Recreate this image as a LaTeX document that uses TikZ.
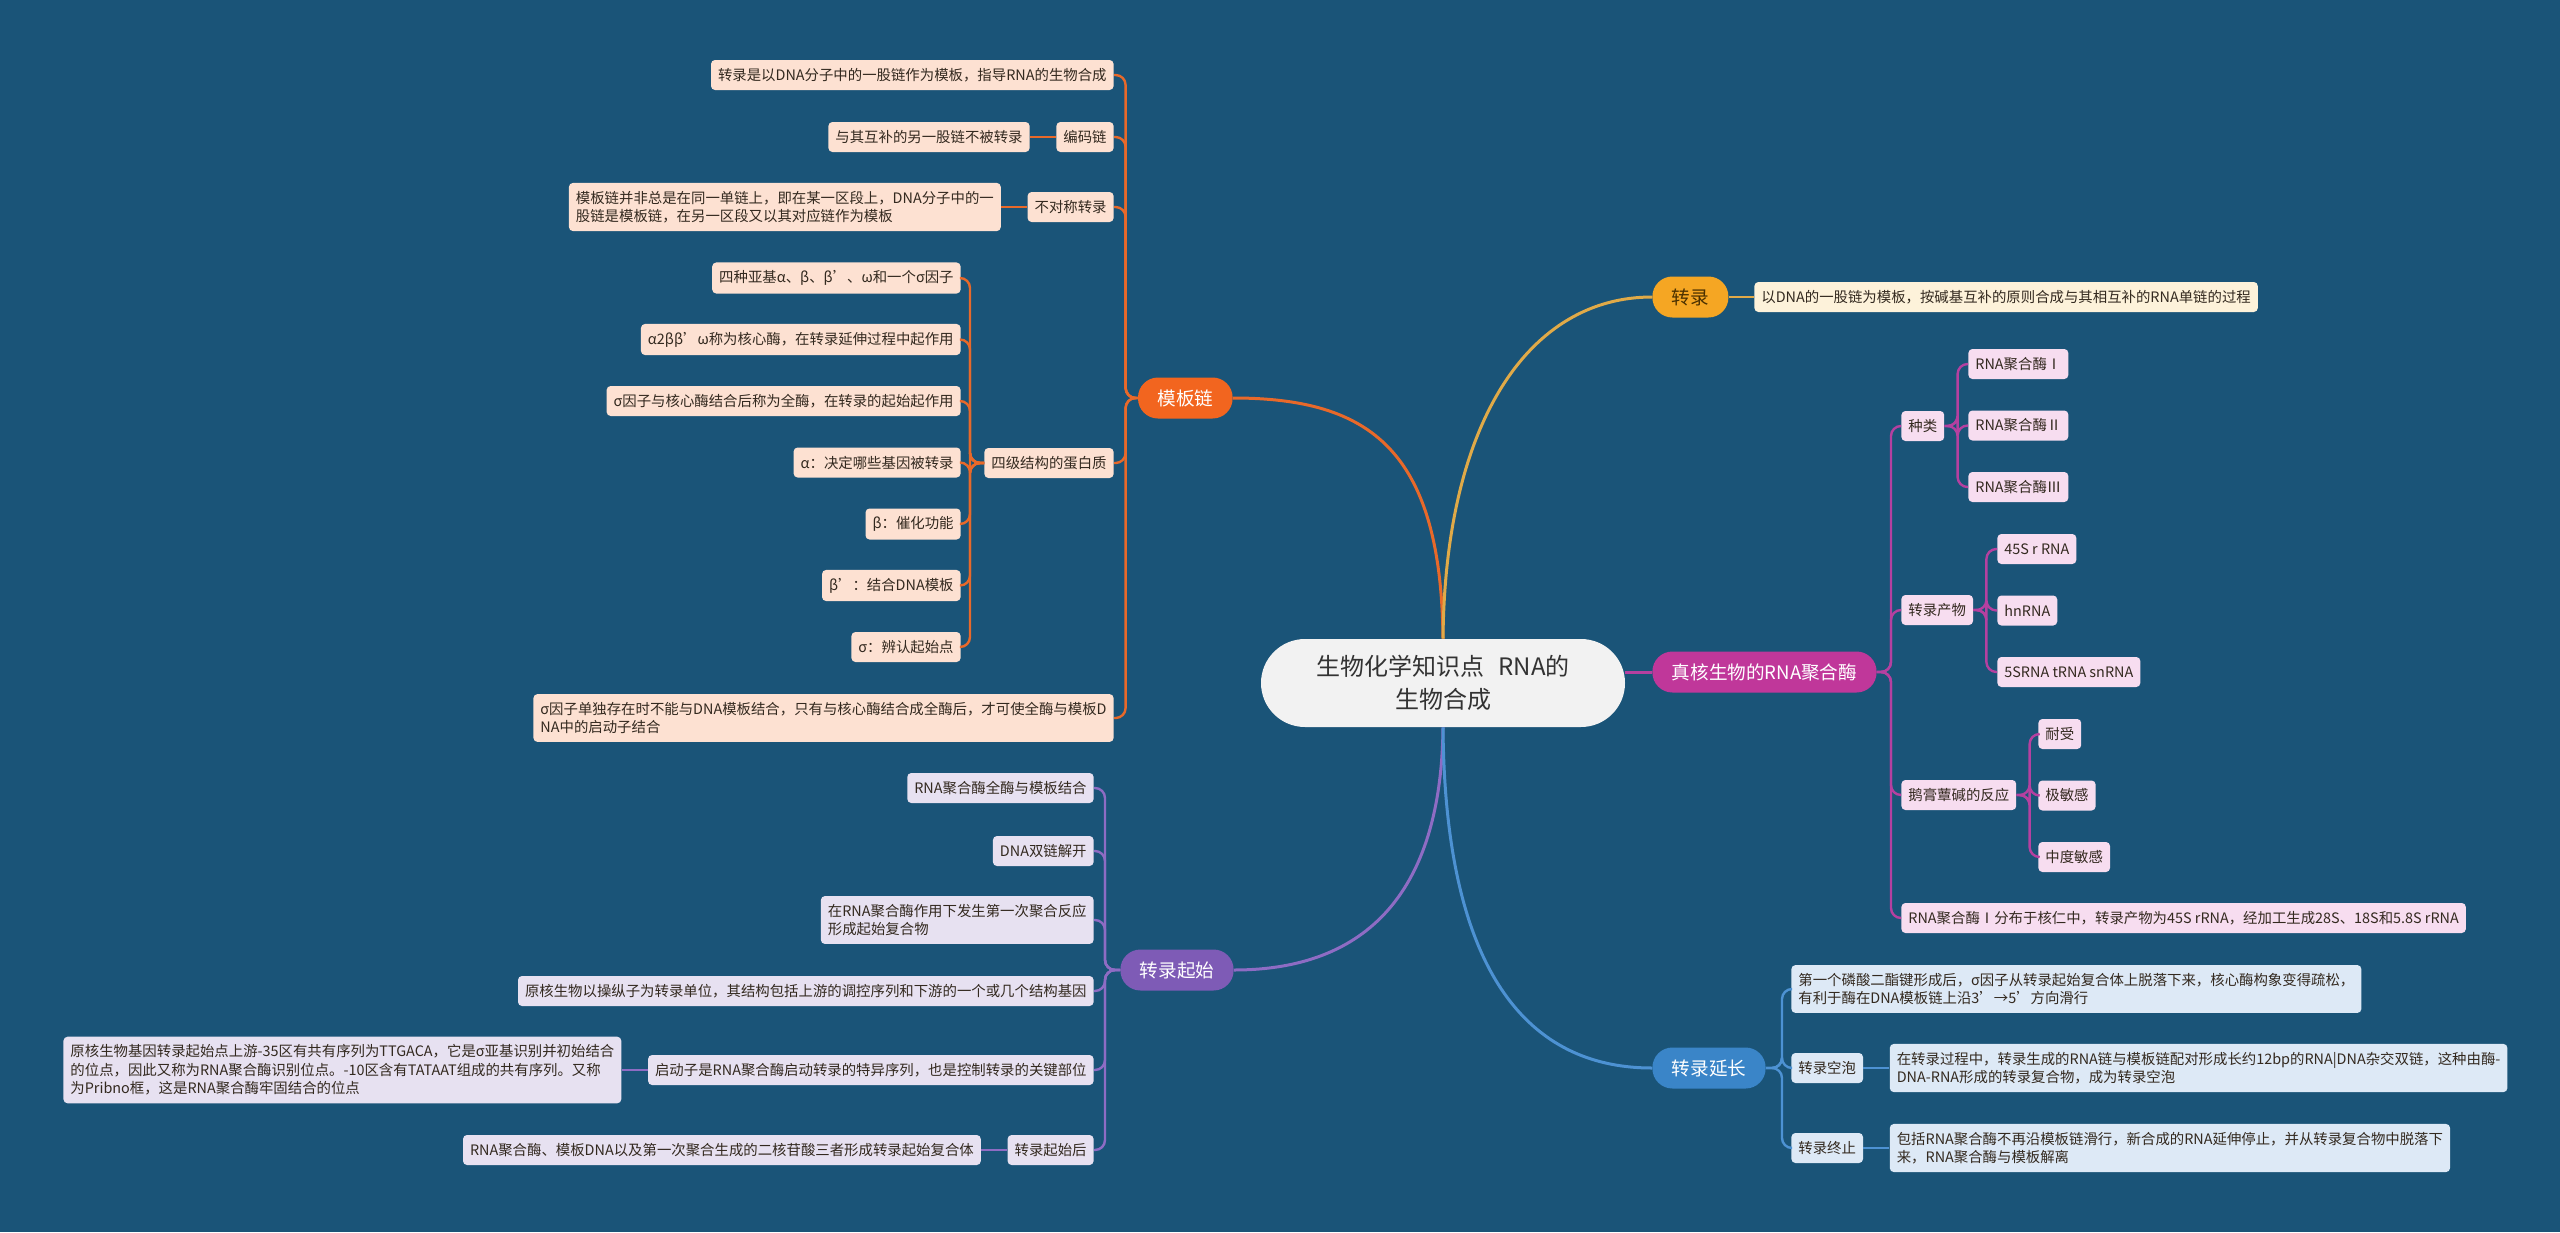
\documentclass[tikz,border=0pt]{standalone}
\usepackage{fontspec}
\setmainfont{Noto Sans CJK SC}
\usetikzlibrary{positioning}

\definecolor{bgblue}{HTML}{1A5478}
\definecolor{rootfill}{HTML}{F2F2F2}
\definecolor{rootink}{HTML}{333333}
\definecolor{leafink}{HTML}{33291F}
\definecolor{obranch}{HTML}{F2651F}
\definecolor{oline}{HTML}{E8692A}
\definecolor{ofill}{HTML}{FDE1D2}
\definecolor{ybranch}{HTML}{F5A623}
\definecolor{ytext}{HTML}{4A3000}
\definecolor{yline}{HTML}{E0AA48}
\definecolor{yfill}{HTML}{FDF2DA}
\definecolor{mbranch}{HTML}{C0379A}
\definecolor{mline}{HTML}{B540A0}
\definecolor{mfill}{HTML}{F7DDF0}
\definecolor{pbranch}{HTML}{7E5BB6}
\definecolor{pline}{HTML}{8E6CC4}
\definecolor{pfill}{HTML}{E7E1F1}
\definecolor{bbranch}{HTML}{3A85C8}
\definecolor{bline}{HTML}{4D92D3}
\definecolor{bfill}{HTML}{DDE9F6}

\begin{document}
\begin{tikzpicture}[x=0.5pt,y=-0.5pt,node distance=13pt,
    leaf/.style={rounded corners=2pt,inner xsep=3.5pt,inner ysep=4pt,
      minimum height=15pt,align=left,text=leafink,
      font=\fontsize{7.2}{9.2}\selectfont},
    branch/.style={rounded corners=10pt,minimum height=20.5pt,
      inner xsep=9.7pt,text=white,font=\fontsize{9.3}{11}\selectfont},
    link/.style={line width=1.2pt,rounded corners=5pt},
    trunk/.style={line width=1.5pt}]
  \tikzstyle{root}=[fill=rootfill,text=rootink,rounded corners=22pt,
    minimum width=182pt,minimum height=44pt,align=center,
    font=\fontsize{12}{16.7}\selectfont]

  \useasboundingbox (0,0) rectangle (2560,1232);
  \fill[bgblue] (0,0) rectangle (2560,1232);

  \node[root] (0) at (1443,683) {生物化学知识点\hspace{0.6em}RNA的\\生物合成};

  % main branches
  \node[branch,fill=obranch,anchor=east] (1) at (1233,398) {模板链};
  \node[branch,fill=pbranch,anchor=east] (2) at (1234,970) {转录起始};
  \node[branch,fill=ybranch,text=ytext,anchor=west] (3) at (1652,297) {转录};
  \node[branch,fill=mbranch,anchor=west] (4) at (1652,672) {真核生物的RNA聚合酶};
  \node[branch,fill=bbranch,anchor=west] (5) at (1652,1068) {转录延长};

  \draw[trunk,oline] (0.north) .. controls (1441,450) and (1370,398) .. (1.east);
  \draw[trunk,yline] (0.north) .. controls (1445,420) and (1530,297) .. (3.west);
  \draw[trunk,mline] (0.east |- 4.west) -- (4.west);
  \draw[trunk,pline] (0.south) .. controls (1441,920) and (1340,970) .. (2.east);
  \draw[trunk,bline] (0.south) .. controls (1445,990) and (1540,1068) .. (5.west);

  % 模板链
  \node[leaf,fill=ofill,anchor=east] (11) at (1114,75) {转录是以DNA分子中的一股链作为模板，指导RNA的生物合成};
  \node[leaf,fill=ofill,anchor=east] (12) at (1114,137) {编码链};
  \node[leaf,fill=ofill,left=of 12] (121) {与其互补的另一股链不被转录};
  \node[leaf,fill=ofill,anchor=east] (13) at (1114,207) {不对称转录};
  \node[leaf,fill=ofill,left=of 13] (131) {模板链并非总是在同一单链上，即在某一区段上，DNA分子中的一\\股链是模板链，在另一区段又以其对应链作为模板};
  \node[leaf,fill=ofill,anchor=east] (14) at (1114,463) {四级结构的蛋白质};
  \node[leaf,fill=ofill,anchor=east] (15) at (1114,718) {σ因子单独存在时不能与DNA模板结合，只有与核心酶结合成全酶后，才可使全酶与模板D\\NA中的启动子结合};
  \foreach \t [count=\i] in {四种亚基α、β、β’、ω和一个σ因子,
      α2ββ’ω称为核心酶，在转录延伸过程中起作用,
      σ因子与核心酶结合后称为全酶，在转录的起始起作用,
      α：决定哪些基因被转录, β：催化功能, β’：结合DNA模板, σ：辨认起始点}
    \node[leaf,fill=ofill,anchor=east] (14\i) at (961,{278+61.5*(\i-1)}) {\t};

  \foreach \c in {11,12,13,14,15}
    \draw[link,oline] (1.west) -- ++(-6pt,0) |- (\c.east);
  \foreach \i in {1,...,7}
    \draw[link,oline] (14.west) -- ++(-7pt,0) |- (14\i.east);
  \draw[link,oline] (12.west) -- (121.east);
  \draw[link,oline] (13.west) -- (131.east);

  % 转录起始
  \node[leaf,fill=pfill,anchor=east] (21) at (1094,788) {RNA聚合酶全酶与模板结合};
  \node[leaf,fill=pfill,anchor=east] (22) at (1094,851) {DNA双链解开};
  \node[leaf,fill=pfill,anchor=east] (23) at (1094,920) {在RNA聚合酶作用下发生第一次聚合反应\\形成起始复合物};
  \node[leaf,fill=pfill,anchor=east] (24) at (1094,991) {原核生物以操纵子为转录单位，其结构包括上游的调控序列和下游的一个或几个结构基因};
  \node[leaf,fill=pfill,anchor=east] (25) at (1094,1070) {启动子是RNA聚合酶启动转录的特异序列，也是控制转录的关键部位};
  \node[leaf,fill=pfill,left=of 25] (251) {原核生物基因转录起始点上游-35区有共有序列为TTGACA，它是σ亚基识别并初始结合\\的位点，因此又称为RNA聚合酶识别位点。-10区含有TATAAT组成的共有序列。又称\\为Pribno框，这是RNA聚合酶牢固结合的位点};
  \node[leaf,fill=pfill,anchor=east] (26) at (1094,1150) {转录起始后};
  \node[leaf,fill=pfill,left=of 26] (261) {RNA聚合酶、模板DNA以及第一次聚合生成的二核苷酸三者形成转录起始复合体};

  \foreach \c in {21,...,26}
    \draw[link,pline] (2.west) -- ++(-7.5pt,0) |- (\c.east);
  \draw[link,pline] (25.west) -- (251.east);
  \draw[link,pline] (26.west) -- (261.east);

  % 转录
  \node[leaf,fill=yfill,anchor=west] (31) at (1754,297) {以DNA的一股链为模板，按碱基互补的原则合成与其相互补的RNA单链的过程};
  \draw[link,yline] (3.east) -- (31.west);

  % 真核生物的RNA聚合酶
  \node[leaf,fill=mfill,anchor=west] (41) at (1901,426) {种类};
  \node[leaf,fill=mfill,anchor=west] (42) at (1901,610) {转录产物};
  \node[leaf,fill=mfill,anchor=west] (43) at (1901,795) {鹅膏蕈碱的反应};
  \node[leaf,fill=mfill,anchor=west] (44) at (1901,918) {RNA聚合酶Ⅰ分布于核仁中，转录产物为45S rRNA，经加工生成28S、18S和5.8S rRNA};
  \foreach \t [count=\i] in {RNA聚合酶Ⅰ, RNA聚合酶Ⅱ, RNA聚合酶Ⅲ}
    \node[leaf,fill=mfill,anchor=west] (41\i) at (1968,{364+61.5*(\i-1)}) {\t};
  \foreach \t [count=\i] in {45S r RNA, hnRNA, 5SRNA tRNA snRNA}
    \node[leaf,fill=mfill,anchor=west] (42\i) at (1997,{549+61.5*(\i-1)}) {\t};
  \foreach \t [count=\i] in {耐受, 极敏感, 中度敏感}
    \node[leaf,fill=mfill,anchor=west] (43\i) at (2038,{734+61.5*(\i-1)}) {\t};

  \foreach \c in {41,...,44}
    \draw[link,mline] (4.east) -- ++(7pt,0) |- (\c.west);
  \foreach \p in {41,42,43}
    \foreach \i in {1,2,3}
      \draw[link,mline] (\p.east) -- ++(6.5pt,0) |- (\p\i.west);

  % 转录延长
  \node[leaf,fill=bfill,anchor=west] (51) at (1791,989) {第一个磷酸二酯键形成后，σ因子从转录起始复合体上脱落下来，核心酶构象变得疏松，\\有利于酶在DNA模板链上沿3’→5’方向滑行};
  \node[leaf,fill=bfill,anchor=west] (52) at (1791,1068) {转录空泡};
  \node[leaf,fill=bfill,right=of 52] (521) {在转录过程中，转录生成的RNA链与模板链配对形成长约12bp的RNA|DNA杂交双链，这种由酶-\\DNA-RNA形成的转录复合物，成为转录空泡};
  \node[leaf,fill=bfill,anchor=west] (53) at (1791,1148) {转录终止};
  \node[leaf,fill=bfill,right=of 53] (531) {包括RNA聚合酶不再沿模板链滑行，新合成的RNA延伸停止，并从转录复合物中脱落下\\来，RNA聚合酶与模板解离};

  \foreach \c in {51,52,53}
    \draw[link,bline] (5.east) -- ++(8pt,0) |- (\c.west);
  \draw[link,bline] (52.east) -- (521.west);
  \draw[link,bline] (53.east) -- (531.west);
\end{tikzpicture}
\end{document}
